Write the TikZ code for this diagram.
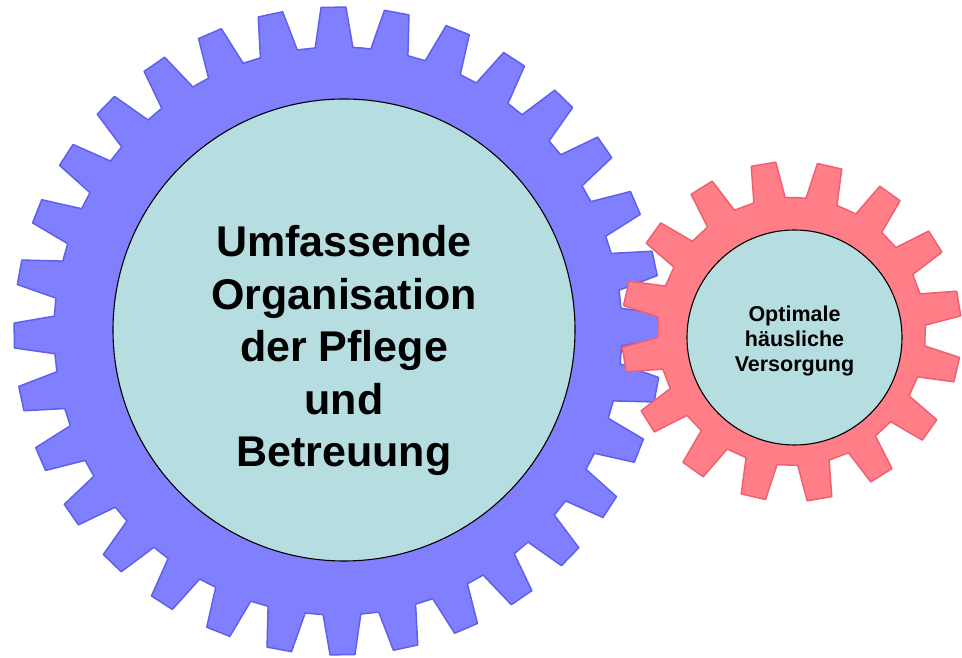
\documentclass[tikz,border=0pt]{standalone}
\usepackage{fontspec}
\setmainfont{Liberation Sans}
\definecolor{gearblue}{RGB}{128,128,255}
\definecolor{gearblueline}{RGB}{95,95,238}
\definecolor{gearred}{RGB}{255,126,136}
\definecolor{gearredline}{RGB}{242,95,110}
\definecolor{hubfill}{RGB}{182,222,225}
\tikzset{
  bluegear/.style={fill=gearblue, draw=gearblueline, line width=1.5bp, line join=round},
  redgear/.style={fill=gearred, draw=gearredline, line width=1.5bp, line join=round},
  hub/.style={circle, draw=black, fill=hubfill, line width=1.1bp, inner sep=0pt},
  bigtext/.style={align=center, font=\fontsize{43bp}{52.5bp}\selectfont\bfseries, inner sep=0pt},
  smalltext/.style={align=center, font=\fontsize{21.5bp}{25bp}\selectfont\bfseries, inner sep=0pt}
}
\begin{document}
\begin{tikzpicture}[x=1bp,y=1bp]
\useasboundingbox (0,0) rectangle (962,658);
\fill[white] (0,0) rectangle (962,658);
% big blue gear: 32 teeth
\begin{scope}[shift={(338,327)}]
  \path[bluegear] ({90.8-5.625}:284)
    \foreach \k in {0,...,31} {
      -- ({90.8+\k*11.25-3.8}:284) -- ({90.8+\k*11.25-2.2}:324)
      -- ({90.8+\k*11.25+2.2}:324) -- ({90.8+\k*11.25+3.8}:284)
    } -- cycle;
\end{scope}
\node[hub, minimum size=462bp] (bighub) at (344,328) {};
\node[bigtext] (bigtxt) at (344,307.5) {Umfassende\\Organisation\\der Pflege\\und\\Betreuung};
% small red gear: 16 teeth
\begin{scope}[shift={(791.5,326.5)}]
  \path[redgear] ({99.5-11.25}:134)
    \foreach \k in {0,...,15} {
      -- ({99.5+\k*22.5-6.8}:134) -- ({99.5+\k*22.5-4.2}:170)
      -- ({99.5+\k*22.5+4.2}:170) -- ({99.5+\k*22.5+6.8}:134)
    } -- cycle;
\end{scope}
\node[hub, minimum size=215bp] (smallhub) at (794.5,320.5) {};
\node[smalltext] (smalltxt) at (794.5,316.8) {Optimale\\häusliche\\Versorgung};
\end{tikzpicture}
\end{document}
